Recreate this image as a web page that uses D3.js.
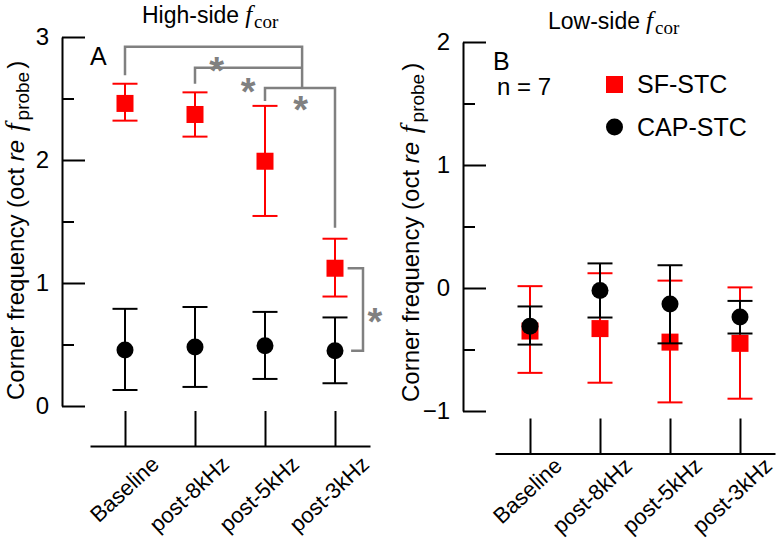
<!DOCTYPE html>
<html><head><meta charset="utf-8">
<script src="https://cdn.jsdelivr.net/npm/d3@7"></script>
<style>body{margin:0;background:#fff} svg{display:block} text{font-family:"Liberation Sans",Arial,sans-serif;fill:#000}</style>
</head><body><svg id="c" width="779" height="541"></svg>
<script>
const categories = ["Baseline","post-8kHz","post-5kHz","post-3kHz"];
// Panel A: high-side corner frequency
const highSF    = [2.46, 2.37, 1.99, 1.12];
const highSFlo  = [2.32, 2.19, 1.545, 0.89];
const highSFhi  = [2.62, 2.55, 2.44, 1.36];
const highCAP   = [0.455, 0.48, 0.49, 0.45];
const highCAPlo = [0.13, 0.155, 0.22, 0.185];
const highCAPhi = [0.79, 0.805, 0.765, 0.72];
// Panel B: low-side corner frequency
const lowSF    = [-0.35, -0.33, -0.44, -0.45];
const lowSFlo  = [-0.69, -0.77, -0.93, -0.90];
const lowSFhi  = [0.015, 0.12, 0.06, 0.005];
const lowCAP   = [-0.31, -0.02, -0.13, -0.235];
const lowCAPlo = [-0.46, -0.24, -0.45, -0.37];
const lowCAPhi = [-0.15, 0.20, 0.185, -0.105];
const highTicks = [0, 1, 2, 3];
const highMinor = [0.5, 1.5, 2.5];
const lowTicks = [-1, 0, 1, 2];
const lowMinor = [-0.5, 0.5, 1.5];
const legendLabels = ["SF-STC", "CAP-STC"];

const RED = "#ff0000", GRAY = "#808080";
const SANS = '"Liberation Sans",Arial,sans-serif', SERIF = '"Liberation Serif","Times New Roman",serif';
const svg = d3.select("#c");

function panel(cfg) {
  const x = d3.scalePoint().domain(categories).range(cfg.xr).padding(0.5);
  const y = d3.scaleLinear().domain(cfg.yd).range(cfg.yr);
  const g = svg.append("g");
  // y axis
  const ya = g.append("g").attr("transform", `translate(${cfg.ax},0)`)
    .call(d3.axisLeft(y).tickValues(cfg.ticks).tickFormat(d3.format("d")).tickSizeInner(-23).tickSizeOuter(0).tickPadding(13));
  ya.selectAll("path,line").attr("stroke", "#000").attr("stroke-width", 2);
  ya.selectAll("text").attr("font-size", 24).attr("font-family", SANS);
  const ym = g.append("g").attr("transform", `translate(${cfg.ax},0)`)
    .call(d3.axisLeft(y).tickValues(cfg.minor).tickFormat("").tickSizeInner(-12).tickSizeOuter(0));
  ym.select(".domain").remove();
  ym.selectAll("line").attr("stroke", "#000").attr("stroke-width", 2);
  // x axis
  const xa = g.append("g").attr("transform", `translate(0,${cfg.xy})`)
    .call(d3.axisBottom(x).tickSizeInner(-35).tickSizeOuter(0));
  xa.selectAll("path,line").attr("stroke", "#000").attr("stroke-width", 2);
  xa.selectAll("text").attr("font-size", 22).attr("font-family", SANS)
    .attr("text-anchor", "end").attr("x", 0).attr("y", 0).attr("dy", 0)
    .attr("transform", `translate(${cfg.ldx},${cfg.ldy}) rotate(-43)`);

  function series(vals, lo, hi, color, shape) {
    const sg = g.append("g");
    categories.forEach((c, i) => {
      const cx = x(c);
      sg.append("line").attr("x1", cx).attr("x2", cx).attr("y1", y(lo[i])).attr("y2", y(hi[i]))
        .attr("stroke", color).attr("stroke-width", 2);
      [lo[i], hi[i]].forEach(v => sg.append("line").attr("x1", cx - 12.5).attr("x2", cx + 12.5)
        .attr("y1", y(v)).attr("y2", y(v)).attr("stroke", color).attr("stroke-width", 2));
      if (shape === "square")
        sg.append("rect").attr("x", cx - 8.5).attr("y", y(vals[i]) - 8.5).attr("width", 17).attr("height", 17).attr("fill", color);
      else
        sg.append("circle").attr("cx", cx).attr("cy", y(vals[i])).attr("r", 8.5).attr("fill", color);
    });
  }
  series(cfg.sf, cfg.sflo, cfg.sfhi, RED, "square");
  series(cfg.cap, cfg.caplo, cfg.caphi, "#000", "circle");

  // title
  const t = svg.append("text").attr("x", cfg.tx).attr("y", cfg.ty).attr("font-size", cfg.tfs);
  t.append("tspan").text(cfg.title);
  t.append("tspan").attr("dx", 6).attr("font-family", SERIF).attr("font-style", "italic").attr("font-size", cfg.tfs + 2).text("f");
  t.append("tspan").attr("dx", 2).attr("font-family", SERIF).attr("font-size", cfg.tfs - 4).attr("dy", 5).text("cor");

  // y label
  const yl = svg.append("text").attr("transform", `translate(${cfg.ylx},${cfg.yly}) rotate(-90)`).attr("font-size", 24);
  yl.append("tspan").text("Corner frequency (oct ");
  yl.append("tspan").attr("font-style", "italic").text("re");
  yl.append("tspan").text(" ");
  yl.append("tspan").attr("dx", 2).attr("font-family", SERIF).attr("font-style", "italic").attr("font-size", 28).text("f");
  yl.append("tspan").attr("dx", 3).attr("font-size", 19).attr("dy", 5).text("probe");
  yl.append("tspan").attr("dx", 3).attr("dy", -5).text(")");

  // panel letter
  svg.append("text").attr("x", cfg.lx).attr("y", cfg.ly).attr("font-size", 25).text(cfg.letter);
  return {x, y, g};
}

const A = panel({xr: [90, 370], yd: [0, 3], yr: [406, 37], ax: 62, xy: 446, ticks: highTicks, minor: highMinor,
  ldx: 35, ldy: 20,
  sf: highSF, sflo: highSFlo, sfhi: highSFhi, cap: highCAP, caplo: highCAPlo, caphi: highCAPhi,
  title: "High-side", tfs: 23, tx: 142, ty: 22.5, ylx: 24, yly: 400, letter: "A", lx: 90, ly: 65});

const B = panel({xr: [495, 775], yd: [-1, 2], yr: [411, 42], ax: 463, xy: 453.5, ticks: lowTicks, minor: lowMinor,
  ldx: 33, ldy: 14,
  sf: lowSF, sflo: lowSFlo, sfhi: lowSFhi, cap: lowCAP, caplo: lowCAPlo, caphi: lowCAPhi,
  title: "Low-side", tfs: 23, tx: 548, ty: 29, ylx: 419, yly: 402, letter: "B", lx: 493, ly: 70});

// significance brackets (panel A)
const xA = i => A.x(categories[0]) + i * A.x.step();
const yA = A.y;
const br = A.g.append("g").attr("fill", "none").attr("stroke", GRAY).attr("stroke-width", 2.5);
const line = d3.line();
br.append("path").attr("d", line([[xA(0), yA(2.69)], [xA(0), yA(2.92)], [xA(2.53), yA(2.92)], [xA(2.53), yA(2.585)]]));
br.append("path").attr("d", line([[xA(1), yA(2.62)], [xA(1), yA(2.75)], [xA(2.53), yA(2.75)]]));
br.append("path").attr("d", line([[xA(2), yA(2.48)], [xA(2), yA(2.585)], [xA(3), yA(2.585)], [xA(3), yA(1.45)]]));
br.append("path").attr("d", line([[xA(3.18), yA(highSF[3])], [xA(3.4), yA(highSF[3])], [xA(3.4), yA(highCAP[3])], [xA(3.23), yA(highCAP[3])]]));
const stars = [[1.31, 2.8], [1.76, 2.63], [2.51, 2.48], [3.57, 0.76]];
stars.forEach(([i, v]) => A.g.append("text").attr("x", xA(i)).attr("y", yA(v)).attr("dy", 22)
  .attr("text-anchor", "middle").attr("font-size", 38).attr("font-weight", "bold").style("fill", GRAY).text("*"));

// legend and n (panel B)
svg.append("text").attr("x", 497).attr("y", 95).attr("font-size", 24).text("n = 7");
svg.append("rect").attr("x", 606).attr("y", 76).attr("width", 17).attr("height", 17).attr("fill", RED);
svg.append("circle").attr("cx", 614.5).attr("cy", 127).attr("r", 8.5).attr("fill", "#000");
svg.append("text").attr("x", 637).attr("y", 93).attr("font-size", 25).text(legendLabels[0]);
svg.append("text").attr("x", 637).attr("y", 136).attr("font-size", 25).text(legendLabels[1]);
</script></body></html>
